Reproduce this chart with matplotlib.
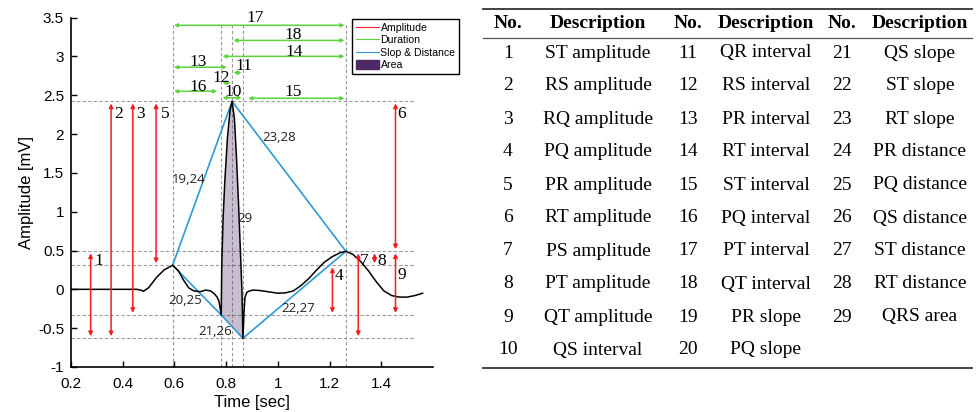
import matplotlib
matplotlib.use('Agg')
from matplotlib import pyplot as plt
from matplotlib.lines import Line2D
from matplotlib.patches import Patch
import numpy as np

# ECG beat (time [sec], amplitude [mV])
ecg_t = [0.20, 0.30, 0.40, 0.455, 0.47, 0.48, 0.50, 0.53, 0.56, 0.593,
         0.615, 0.635, 0.655, 0.675, 0.70, 0.72, 0.74, 0.755, 0.765, 0.772,
         0.781, 0.783, 0.788, 0.795, 0.805, 0.815, 0.823, 0.832, 0.840, 0.848,
         0.855, 0.861, 0.865, 0.869, 0.873, 0.880, 0.890, 0.905, 0.93, 0.96,
         1.00, 1.03, 1.06, 1.09, 1.12, 1.15, 1.18, 1.21, 1.24, 1.263,
         1.29, 1.32, 1.35, 1.38, 1.41, 1.44, 1.47, 1.50, 1.53, 1.56]
ecg_v = [0.0, 0.0, 0.0, 0.0, -0.01, -0.025, 0.02, 0.15, 0.25, 0.31,
         0.24, 0.12, 0.02, -0.02, -0.03, -0.01, -0.02, -0.06, -0.10, -0.15,
         -0.33, 0.30, 0.90, 1.40, 1.95, 2.30, 2.42, 2.20, 1.70, 1.10,
         0.50, 0.0, -0.63, -0.30, -0.10, -0.04, -0.02, -0.01, -0.015, -0.03,
         -0.05, -0.045, -0.02, 0.05, 0.14, 0.25, 0.35, 0.42, 0.47, 0.49,
         0.45, 0.36, 0.24, 0.10, -0.02, -0.08, -0.10, -0.10, -0.08, -0.05]

# fiducial points P, Q, R, S, T
fid_names = ['P', 'Q', 'R', 'S', 'T']
fid_t = [0.593, 0.781, 0.823, 0.865, 1.263]
fid_v = [0.31, -0.33, 2.42, -0.63, 0.49]

# amplitude features: label, x position, from point, to point, label x, label y
amp_labels = ['1', '2', '3', '4', '5', '6', '7', '8', '9']
amp_x = [0.276, 0.355, 0.439, 1.211, 0.529, 1.455, 1.311, 1.374, 1.455]
amp_from = ['S', 'S', 'Q', 'Q', 'P', 'T', 'S', 'P', 'Q']
amp_to = ['T', 'R', 'R', 'P', 'R', 'R', 'T', 'T', 'T']
amp_lx = [0.306, 0.383, 0.467, 1.236, 0.564, 1.478, 1.333, 1.401, 1.481]
amp_ly = [0.37, 2.26, 2.26, 0.17, 2.26, 2.26, 0.37, 0.37, 0.18]

# duration features: label, height, start, end, label x, label y
dur_labels = ['17', '18', '14', '13', '11', '12', '16', '10', '15']
dur_y = [3.40, 3.205, 3.00, 2.86, 2.79, 2.66, 2.55, 2.467, 2.46]
dur_x0 = [0.593, 0.823, 0.781, 0.593, 0.823, 0.781, 0.593, 0.781, 0.880]
dur_x1 = [1.263, 1.263, 1.263, 0.808, 0.865, 0.823, 0.770, 0.865, 1.263]
dur_lx = [0.912, 1.060, 1.065, 0.692, 0.867, 0.780, 0.692, 0.828, 1.060]
dur_ly = [3.50, 3.28, 3.05, 2.925, 2.87, 2.72, 2.61, 2.54, 2.54]

# slope / distance segments between fiducial points
slope_pairs = [('P', 'R'), ('R', 'T'), ('P', 'Q'), ('Q', 'S'), ('S', 'T')]
slope_labels = ['19,24', '23,28', '20,25', '21,26', '22,27', '29']
slope_lx = [0.654, 1.003, 0.641, 0.757, 1.080, 0.873]
slope_ly = [1.41, 1.96, -0.15, -0.54, -0.25, 0.91]

# feature table
tab_no1 = ['1', '2', '3', '4', '5', '6', '7', '8', '9', '10']
tab_desc1 = ['ST amplitude', 'RS amplitude', 'RQ amplitude', 'PQ amplitude',
             'PR amplitude', 'RT amplitude', 'PS amplitude', 'PT amplitude',
             'QT amplitude', 'QS interval']
tab_no2 = ['11', '12', '13', '14', '15', '16', '17', '18', '19', '20']
tab_desc2 = ['QR interval', 'RS interval', 'PR interval', 'RT interval',
             'ST interval', 'PQ interval', 'PT interval', 'QT interval',
             'PR slope', 'PQ slope']
tab_no3 = ['21', '22', '23', '24', '25', '26', '27', '28', '29']
tab_desc3 = ['QS slope', 'ST slope', 'RT slope', 'PR distance', 'PQ distance',
             'QS distance', 'ST distance', 'RT distance', 'QRS area']

RED = '#f21d1d'
GREEN = '#5ad43a'
BLUE = '#2d9ad8'
PURPLE = '#4d2a66'
GRID = '#9a9a9a'

W, H = 979, 412
fig = plt.figure(figsize=(W / 100, H / 100), dpi=100)
ax = fig.add_axes([71 / W, 1 - 367 / H, (433 - 71) / W, (367 - 17.5) / H])

fid = dict(zip(fid_names, zip(fid_t, fid_v)))

# guide lines through the fiducial points
for t in fid_t:
    ax.plot([t, t], [-1, 3.42], ls=(0, (3, 2)), color=GRID, lw=0.8, zorder=1)
for v in fid_v:
    ax.plot([0.2, 1.525], [v, v], ls=(0, (3, 2)), color=GRID, lw=0.8, zorder=1)

# QRS area
ecg_t_arr = np.array(ecg_t)
qrs = (ecg_t_arr >= fid['Q'][0]) & (ecg_t_arr <= fid['S'][0])
ax.fill(ecg_t_arr[qrs], np.array(ecg_v)[qrs], color=PURPLE, alpha=0.3,
        lw=0, zorder=2)

ax.plot(ecg_t, ecg_v, color='black', lw=1.1, zorder=4)

for a, b in slope_pairs:
    ax.plot([fid[a][0], fid[b][0]], [fid[a][1], fid[b][1]], color=BLUE,
            lw=1.2, zorder=3)

serif = 'Liberation Serif'
for lab, x, f, t, lx, ly in zip(amp_labels, amp_x, amp_from, amp_to,
                                amp_lx, amp_ly):
    ax.annotate('', xy=(x, fid[t][1]), xytext=(x, fid[f][1]),
                arrowprops=dict(arrowstyle='<|-|>', color=RED, lw=1.1,
                                mutation_scale=6, shrinkA=1.5, shrinkB=1.5),
                zorder=5)
    ax.text(lx, ly, lab, family=serif, fontsize=12.5, ha='center',
            va='center', zorder=6)

for lab, y, x0, x1, lx, ly in zip(dur_labels, dur_y, dur_x0, dur_x1,
                                  dur_lx, dur_ly):
    ax.annotate('', xy=(x1, y), xytext=(x0, y),
                arrowprops=dict(arrowstyle='<|-|>', color=GREEN, lw=1.1,
                                mutation_scale=5, shrinkA=1, shrinkB=1),
                zorder=5)
    ax.text(lx, ly, lab, family=serif, fontsize=12.5, ha='center',
            va='center', zorder=6)

for lab, lx, ly in zip(slope_labels, slope_lx, slope_ly):
    ax.text(lx, ly, lab, family='Open Sans', fontsize=9.5, color='#222222',
            ha='center', va='center', zorder=6)

ax.set_xlim(0.2, 1.6)
ax.set_ylim(-1, 3.5)
ax.set_xticks([0.2, 0.4, 0.6, 0.8, 1.0, 1.2, 1.4])
ax.set_xticklabels(['0.2', '0.4', '0.6', '0.8', '1', '1.2', '1.4'])
ax.set_yticks([-1, -0.5, 0, 0.5, 1, 1.5, 2, 2.5, 3, 3.5])
ax.set_yticklabels(['-1', '-0.5', '0', '0.5', '1', '1.5', '2', '2.5', '3', '3.5'])
ax.spines['top'].set_visible(False)
ax.spines['right'].set_visible(False)
for s in ('left', 'bottom'):
    ax.spines[s].set_linewidth(1.2)
ax.tick_params(direction='in', length=4, width=1, labelsize=11)
ax.tick_params(axis='x', pad=7)
ax.tick_params(axis='y', pad=5)
for lab in ax.get_xticklabels() + ax.get_yticklabels():
    lab.set_family('Liberation Sans')
ax.set_xlabel('Time [sec]', family='Liberation Sans', fontsize=12, labelpad=3)
ax.set_ylabel('Amplitude [mV]', family='Liberation Sans', fontsize=12,
              labelpad=3)

handles = [Line2D([], [], color=RED, lw=0.8),
           Line2D([], [], color=GREEN, lw=0.8),
           Line2D([], [], color=BLUE, lw=0.8),
           Patch(facecolor=PURPLE, edgecolor=PURPLE)]
leg = fig.legend(handles, ['Amplitude', 'Duration', 'Slop & Distance', 'Area'],
                 loc='upper left', bbox_to_anchor=(352 / W, 1 - 19 / H),
                 prop={'family': 'Liberation Sans', 'size': 7.6},
                 handlelength=2.2, handleheight=1.0, handletextpad=0.15,
                 labelspacing=0.2, borderpad=0.35, borderaxespad=0,
                 fancybox=False, framealpha=1)
leg.get_frame().set_edgecolor('black')
leg.get_frame().set_linewidth(1.0)

# feature table
def fy(py):
    return 1 - py / H


def fx(px):
    return px / W


x_l, x_r = fx(483), fx(972)
fig.add_artist(Line2D([x_l, x_r], [fy(9), fy(9)], color='#333333', lw=1.3))
fig.add_artist(Line2D([x_l, x_r], [fy(38), fy(38)], color='#555555', lw=0.9))
fig.add_artist(Line2D([x_l, x_r], [fy(368), fy(368)], color='#333333', lw=1.3))

col_x = [508, 598, 688, 766, 842, 920]
for cx, head in zip(col_x, ['No.', 'Description'] * 3):
    fig.text(fx(cx), fy(23), head, family=serif, fontsize=14, weight='bold',
             ha='center', va='center')

cols = [tab_no1, tab_desc1, tab_no2, tab_desc2, tab_no3, tab_desc3]
for cx, col in zip(col_x, cols):
    for i, txt in enumerate(col):
        fig.text(fx(cx), fy(53 + 33 * i), txt, family=serif, fontsize=14,
                 ha='center', va='center')

fig.savefig('out.png', dpi=100)
